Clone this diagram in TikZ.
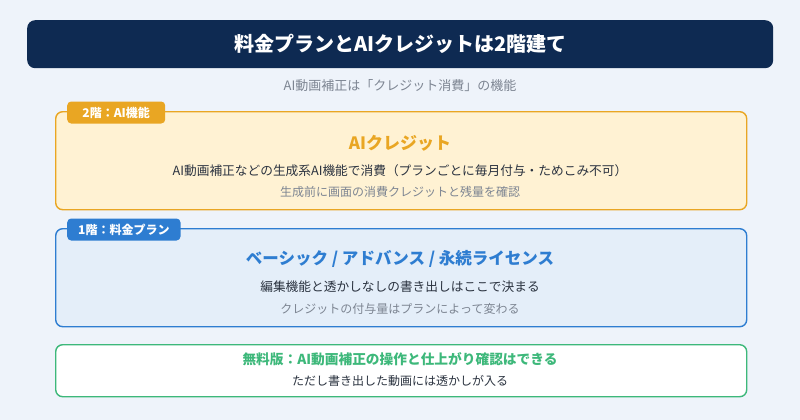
\documentclass[tikz,border=0pt]{standalone}
\usepackage{fontspec}
\usepackage{xcolor}
\newfontfamily\cjk{Noto Sans CJK JP}
\definecolor{pagebg}{HTML}{EEF3FA}
\definecolor{navy}{HTML}{0E2A52}
\definecolor{amber}{HTML}{E9A623}
\definecolor{amberbg}{HTML}{FFF2D3}
\definecolor{planblue}{HTML}{2E7DD1}
\definecolor{planbg}{HTML}{E4EEF9}
\definecolor{freegreen}{HTML}{3DB87A}
\definecolor{inkdark}{HTML}{2B3340}
\definecolor{inkgray}{HTML}{7D8592}
\usetikzlibrary{positioning}
\tikzset{
  floor/.style   ={rectangle, rounded corners=7pt, line width=1.4pt, anchor=north west},
  tagbox/.style  ={rectangle, rounded corners=4pt, text=white, inner xsep=11pt,
                   minimum height=22pt, font=\cjk\bfseries\fontsize{12}{13}\selectfont},
  headtxt/.style ={font=\cjk\bfseries\fontsize{17}{20}\selectfont, inner sep=0pt},
  bodytxt/.style ={font=\cjk\fontsize{12.7}{15}\selectfont, text=inkdark, inner sep=0pt},
  notetxt/.style ={font=\cjk\fontsize{12}{14}\selectfont, text=inkgray, inner sep=0pt},
}

\begin{document}
\begin{tikzpicture}[x=1pt, y=-1pt]
  \fill[pagebg] (0,0) rectangle (800,420);
  \useasboundingbox (0,0) rectangle (800,420);
  % title bar
  \node[rectangle, rounded corners=8pt, fill=navy, anchor=north west,
        minimum width=746pt, minimum height=48pt] (banner) at (27,20) {};
  \node[text=white, font=\cjk\bfseries\fontsize{20}{24}\selectfont] (bannertxt) at (banner.center)
       {料金プランとAIクレジットは2階建て};
  \node[notetxt, font=\cjk\fontsize{13}{15}\selectfont] (lead) at (400,86) {AI動画補正は「クレジット消費」の機能};
  % 2F: AI credits
  \node[floor, draw=amber, fill=amberbg, minimum width=691pt, minimum height=98pt] (ai) at (55,111) {};
  \node[tagbox, fill=amber, anchor=west, minimum width=98pt] (aitag) at (67,112.5) {2階：AI機能};
  \node[headtxt, text=amber] (aihead) at (400,143) {AIクレジット};
  \node[bodytxt] (aibody) at (400,171) {AI動画補正などの生成系AI機能で消費（プランごとに毎月付与・ためこみ不可）};
  \node[notetxt] (ainote) at (400,192) {生成前に画面の消費クレジットと残量を確認};
  % 1F: plans
  \node[floor, draw=planblue, fill=planbg, minimum width=691pt, minimum height=98pt] (plan) at (55,228) {};
  \node[tagbox, fill=planblue, anchor=west] (plantag) at (67,229.5) {1階：料金プラン};
  \node[headtxt, text=planblue, font=\cjk\bfseries\fontsize{16.5}{20}\selectfont] (planhead) at (400,259)
       {ベーシック / アドバンス / 永続ライセンス};
  \node[bodytxt] (planbody) at (400,287) {編集機能と透かしなしの書き出しはここで決まる};
  \node[notetxt] (plannote) at (400,309) {クレジットの付与量はプランによって変わる};
  % free tier
  \node[floor, draw=freegreen, fill=white, minimum width=691pt, minimum height=52pt] (free) at (55,344) {};
  \node[font=\cjk\bfseries\fontsize{13.7}{17}\selectfont, text=freegreen, inner sep=0pt] (freehead) at (400,359)
       {無料版：AI動画補正の操作と仕上がり確認はできる};
  \node[bodytxt, font=\cjk\fontsize{12}{14}\selectfont] (freebody) at (400,381) {ただし書き出した動画には透かしが入る};
\end{tikzpicture}
\end{document}
